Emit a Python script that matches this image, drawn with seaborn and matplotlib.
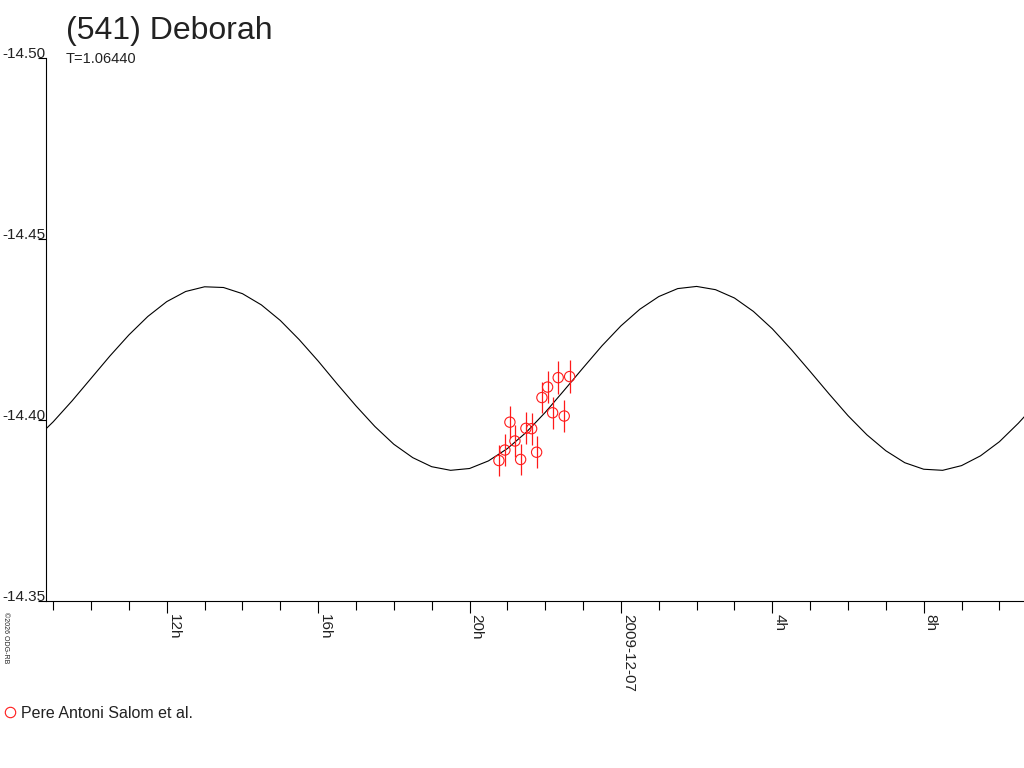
import pandas as pd
import seaborn as sns
import matplotlib.pyplot as plt
from matplotlib.ticker import FixedLocator, MultipleLocator
from matplotlib.lines import Line2D

# === Data (time in hours from 2009-12-06 00:00 UT) ===
model_hours = [8.5, 9.0, 9.5, 10.0, 10.5, 11.0, 11.5, 12.0, 12.5, 13.0,
               13.5, 14.0, 14.5, 15.0, 15.5, 16.0, 16.5, 17.0, 17.5, 18.0,
               18.5, 19.0, 19.5, 20.0, 20.5, 21.0, 21.5, 22.0, 22.5, 23.0,
               23.5, 24.0, 24.5, 25.0, 25.5, 26.0, 26.5, 27.0, 27.5, 28.0,
               28.5, 29.0, 29.5, 30.0, 30.5, 31.0, 31.5, 32.0, 32.5, 33.0,
               33.5, 34.0, 34.5, 35.0]
model_mag = [-14.3944, -14.3995, -14.4053, -14.4115, -14.4177, -14.4235, -14.4286,
             -14.4327, -14.4355, -14.4368, -14.4366, -14.4349, -14.4318, -14.4275,
             -14.4222, -14.4163, -14.4100, -14.4039, -14.3982, -14.3933, -14.3896,
             -14.3871, -14.3861, -14.3866, -14.3887, -14.3921, -14.3966, -14.4021,
             -14.4082, -14.4144, -14.4205, -14.4260, -14.4306, -14.4341, -14.4363,
             -14.4369, -14.4360, -14.4337, -14.4300, -14.4252, -14.4195, -14.4134,
             -14.4072, -14.4012, -14.3959, -14.3915, -14.3882, -14.3864, -14.3861,
             -14.3874, -14.3901, -14.3940, -14.3991, -14.4048]

obs_hours = [20.777, 20.935, 21.067, 21.200, 21.350, 21.490, 21.641,
             21.773, 21.913, 22.063, 22.196, 22.343, 22.502, 22.645]
obs_mag = [-14.3888, -14.3917, -14.3994, -14.3942, -14.3891, -14.3977, -14.3976,
           -14.3911, -14.4062, -14.4091, -14.4020, -14.4117, -14.4011, -14.4120]
obs_err = [0.0042, 0.0043, 0.0044, 0.0044, 0.0044, 0.0044, 0.0044,
           0.0044, 0.0044, 0.0044, 0.0044, 0.0046, 0.0044, 0.0046]
observer = "Pere Antoni Salom et al."

xtick_hours = [12, 16, 20, 24, 28, 32]
xtick_labels = ["12h", "16h", "20h", "2009-12-07", "4h", "8h"]
ytick_values = [-14.50, -14.45, -14.40, -14.35]

model_df = pd.DataFrame({"hour": model_hours, "mag": model_mag})
obs_df = pd.DataFrame({"hour": obs_hours, "mag": obs_mag, "err": obs_err})

# === Plot ===
sns.set_style("white")
plt.rcParams['font.family'] = ['Liberation Sans', 'DejaVu Sans']
text_color = "#222222"

fig = plt.figure(figsize=(10.24, 7.68), dpi=100)
ax = fig.add_axes([46 / 1024, 1 - 601 / 768, 1 - 46 / 1024, (601 - 58) / 768])

sns.lineplot(data=model_df, x="hour", y="mag", estimator=None, color="black",
             linewidth=0.8, ax=ax)
ax.errorbar(obs_df["hour"], obs_df["mag"], yerr=obs_df["err"], fmt="none",
            ecolor="#ff1a1a", elinewidth=0.9, capsize=0)
ax.scatter(obs_df["hour"], obs_df["mag"], s=55, facecolors="none",
           edgecolors="#ff1a1a", linewidths=0.8, zorder=3)

ax.set_xlim(8.81, 34.65)
ax.set_ylim(-14.35, -14.50)
ax.set_xlabel("")
ax.set_ylabel("")

ax.xaxis.set_major_locator(FixedLocator(xtick_hours))
ax.xaxis.set_minor_locator(MultipleLocator(1))
ax.set_xticks(xtick_hours)
ax.set_xticklabels(xtick_labels)
ax.set_yticks(ytick_values)
ax.set_yticklabels([f"{v:.2f}" for v in ytick_values])

for side in ["top", "right"]:
    ax.spines[side].set_visible(False)
for side in ["left", "bottom"]:
    ax.spines[side].set_color("black")
    ax.spines[side].set_linewidth(0.8)

ax.tick_params(axis="x", which="major", direction="out", length=8.6, width=0.8,
               pad=1, labelsize=11, colors="black", labelcolor=text_color, bottom=True)
ax.tick_params(axis="x", which="minor", direction="out", length=6.5, width=0.8,
               colors="black", bottom=True)
ax.tick_params(axis="y", which="major", direction="out", length=6, width=0.8,
               pad=-5.5, labelsize=11, colors="black", labelcolor=text_color, left=True)
for lbl in ax.get_xticklabels():
    lbl.set_rotation(-90)
    lbl.set_ha("left")
    lbl.set_va("top")
for lbl in ax.get_yticklabels():
    lbl.set_va("baseline")

# titles
fig.text(66 / 1024, 1 - 39 / 768, "(541) Deborah", fontsize=23, va="baseline",
         color=text_color)
fig.text(66 / 1024, 1 - 63 / 768, "T=1.06440", fontsize=10.5, va="baseline",
         color=text_color)
fig.text(5 / 1024, 1 - 612 / 768, "\u00a92026 ODG-RB", rotation=-90, fontsize=5,
         ha="center", va="top", color=text_color)

# legend
handle = Line2D([], [], linestyle="none", marker="o", markersize=7.5,
                markerfacecolor="none", markeredgecolor="#ff1a1a", markeredgewidth=0.8)
fig.legend([handle], [observer], loc="center left",
           bbox_to_anchor=(4 / 1024, 1 - 713 / 768), frameon=False,
           handlelength=0.7, handletextpad=0.35, borderpad=0, borderaxespad=0,
           fontsize=11.5, labelcolor=text_color)

fig.savefig("out.png", dpi=100)
